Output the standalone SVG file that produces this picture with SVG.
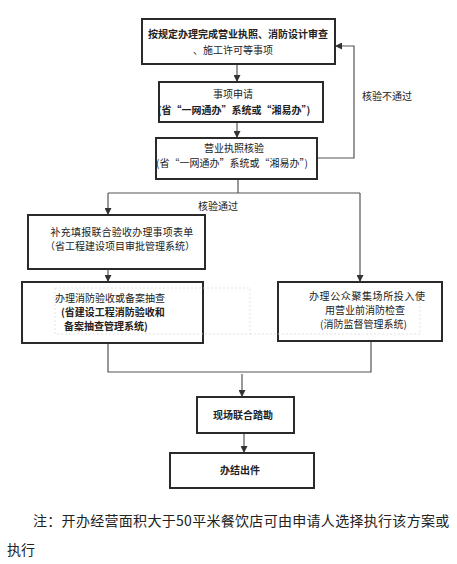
<svg xmlns="http://www.w3.org/2000/svg" width="457" height="564" viewBox="0 0 457 564">
<defs>
<marker id="ah" viewBox="0 0 10 10" refX="10" refY="5" markerWidth="7" markerHeight="7" markerUnits="userSpaceOnUse" orient="auto">
<path d="M0,0 L10,5 L0,10 z" fill="#333"/>
</marker>
<style>
.box{fill:#fff;stroke:#2a2a2a;stroke-width:2}
.ln{fill:none;stroke:#555;stroke-width:1.2}
.t{font-family:"Noto Sans CJK SC","Liberation Sans",sans-serif;font-size:10px;fill:#222}
.b{font-weight:bold}
.c{text-anchor:middle}
.note{font-family:"Noto Sans CJK SC","Liberation Sans",sans-serif;font-size:14px;fill:#222}
.dash{fill:none;stroke:#d8d8d8;stroke-width:0.7;stroke-dasharray:2 2}
</style>
</defs>
<rect width="457" height="564" fill="#fff"/>
<g id="connectors">
<path class="ln" d="M237,64 V82" marker-end="url(#ah)"/>
<path class="ln" d="M237,122 V138" marker-end="url(#ah)"/>
<path class="ln" d="M317,158 H354 V46 H335" marker-end="url(#ah)"/>
<path class="ln" d="M238,179 V193"/>
<path class="ln" d="M108,193 H360"/>
<path class="ln" d="M108,193 V215" marker-end="url(#ah)"/>
<path class="ln" d="M360,193 V282" marker-end="url(#ah)"/>
<path class="ln" d="M108,269 V282" marker-end="url(#ah)"/>
<path class="ln" d="M108,343 V372 H371 V341"/>
<path class="ln" d="M242,374 V397" marker-end="url(#ah)"/>
<path class="ln" d="M244,433 V453" marker-end="url(#ah)"/>
<text class="t" x="218" y="210" text-anchor="middle">核验通过</text>
<text class="t" x="362" y="100">核验不通过</text>
</g>
<g id="n1">
<rect class="box" x="142" y="19" width="193" height="45"/>
<text class="t b c" x="238" y="38">按规定办理完成营业执照、消防设计审查</text>
<text class="t c" x="233" y="54">、施工许可等事项</text>
</g>
<g id="n2">
<rect class="box" x="159" y="82" width="164" height="40"/>
<text class="t c" x="233" y="98">事项申请</text>
<text class="t b c" x="234" y="114">(省“一网通办”系统或“湘易办”)</text>
</g>
<g id="n3">
<rect class="box" x="156" y="138" width="161" height="41"/>
<text class="t c" x="234" y="152">营业执照核验</text>
<text class="t c" x="232" y="167">(省“一网通办”系统或“湘易办”)</text>
</g>
<g id="n4">
<rect class="box" x="28" y="215" width="177" height="54"/>
<text class="t c" x="122" y="236" letter-spacing="0.2">补充填报联合验收办理事项表单</text>
<text class="t c" x="120" y="250">（省工程建设项目审批管理系统）</text>
</g>
<g id="n5">
<rect class="box" x="22" y="282" width="181" height="61"/>
<rect class="dash" x="55" y="288" width="195" height="46"/>
<text class="t" x="55" y="302">办理消防验收或备案抽查</text>
<text class="t b" x="61" y="316">(省建设工程消防验收和</text>
<text class="t b" x="64" y="330">备案抽查管理系统)</text>
</g>
<g id="n6">
<rect class="box" x="278" y="282" width="164" height="59"/>
<path class="dash" d="M250,334 H420 V288"/>
<text class="t" x="309" y="300" letter-spacing="0.6">办理公众聚集场所投入使</text>
<text class="t" x="325" y="314">用营业前消防检查</text>
<text class="t" x="320" y="328">(消防监督管理系统)</text>
</g>
<g id="n7">
<rect class="box" x="197" y="397" width="97" height="36"/>
<text class="t b c" x="243" y="419">现场联合踏勘</text>
</g>
<g id="n8">
<rect class="box" x="170" y="453" width="144" height="35"/>
<text class="t b c" x="240" y="474">办结出件</text>
</g>
<g id="note">
<text class="note" x="33" y="526" letter-spacing="0.3">注：开办经营面积大于50平米餐饮店可由申请人选择执行该方案或</text>
<text class="note" x="7" y="555">执行</text>
</g>
</svg>
